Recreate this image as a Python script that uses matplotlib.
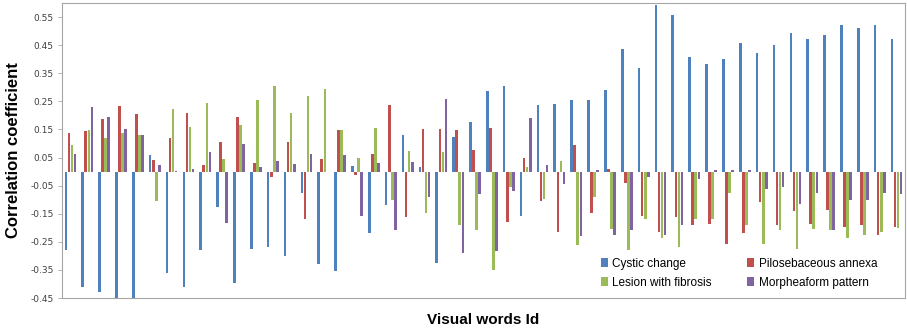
import numpy as np
import matplotlib.pyplot as plt

# correlation of each visual word with the four lesion patterns
cystic = [-0.28, -0.41, -0.43, -0.45, -0.45, 0.06, -0.36, -0.41, -0.28, -0.125,
          -0.395, -0.275, -0.27, -0.30, -0.075, -0.33, -0.355, 0.02, -0.22, -0.12,
          0.13, 0.017, -0.325, 0.123, 0.178, 0.286, 0.306, -0.158, 0.237, 0.241,
          0.256, 0.254, 0.292, 0.437, 0.369, 0.592, 0.559, 0.409, 0.382, 0.399,
          0.457, 0.423, 0.45, 0.493, 0.473, 0.487, 0.52, 0.511, 0.521, 0.473]
pilo = [0.136, 0.145, 0.188, 0.234, 0.205, 0.041, 0.119, 0.207, 0.023, 0.104,
        0.193, 0.031, -0.019, 0.104, -0.168, 0.045, 0.148, -0.011, 0.064, 0.236,
        -0.161, 0.153, 0.15, 0.149, 0.076, 0.156, -0.181, 0.049, -0.104, -0.214,
        0.095, -0.146, 0.008, -0.039, -0.158, -0.214, -0.161, -0.191, -0.186, -0.259,
        -0.218, -0.107, -0.191, -0.139, -0.188, -0.136, -0.196, -0.191, -0.224, -0.196]
fibrosis = [0.093, 0.149, 0.119, 0.136, 0.131, -0.106, 0.224, 0.16, 0.243, 0.044,
            0.164, 0.254, 0.305, 0.207, 0.268, 0.294, 0.148, 0.05, 0.156, -0.102,
            0.074, -0.146, 0.068, -0.19, -0.208, -0.351, -0.054, 0.016, -0.099, 0.039,
            -0.262, -0.089, -0.206, -0.28, -0.169, -0.236, -0.27, -0.169, -0.168, -0.075,
            -0.19, -0.259, -0.208, -0.277, -0.204, -0.208, -0.236, -0.224, -0.216, -0.2]
morph = [0.063, 0.231, 0.195, 0.15, 0.131, 0.023, 0.003, 0.008, 0.071, -0.182,
         0.099, 0.018, 0.036, 0.026, 0.063, -0.003, 0.059, -0.158, 0.031, -0.209,
         0.035, -0.09, 0.26, -0.291, -0.081, -0.282, -0.069, 0.192, 0.023, -0.045,
         -0.229, 0.007, -0.224, -0.208, -0.018, -0.224, -0.191, -0.027, 0.005, 0.007,
         0.007, -0.063, -0.054, -0.117, -0.075, -0.208, -0.101, -0.1, -0.075, -0.081]

series_names = ["Cystic change", "Pilosebaceous annexa",
                "Lesion with fibrosis", "Morpheaform pattern"]
colors = ["#4F81BD", "#C0504D", "#9BBB59", "#8064A2"]
yticks = [0.55, 0.45, 0.35, 0.25, 0.15, 0.05, -0.05, -0.15, -0.25, -0.35, -0.45]

fig = plt.figure(figsize=(9.07, 3.3), dpi=100)
ax = fig.add_axes([62 / 907, 1 - 298 / 330, 843 / 907, 295 / 330])

x = np.arange(1, len(cystic) + 1)
w = 1 / 5.5
handles = {}
for k, (vals, name, c) in enumerate(zip([cystic, pilo, fibrosis, morph], series_names, colors)):
    handles[name] = ax.bar(x + (k - 1.5) * w, vals, width=w * 0.85, color=c, label=name)

ax.set_xlim(0.5, len(cystic) + 0.5)
ax.set_ylim(-0.45, 0.6)
ax.set_xticks([])
ax.set_yticks(yticks)
ax.set_yticklabels([f"{t:.2f}" for t in yticks])
ax.tick_params(axis="y", labelsize=6.5, labelcolor="#404040", length=3, width=0.6, color="#A6A6A6", pad=3)
for s in ax.spines.values():
    s.set_color("#A6A6A6")
    s.set_linewidth(0.8)

ax.set_ylabel("Correlation coefficient", fontsize=12, fontweight="bold", family="Liberation Sans", labelpad=7)
ax.set_xlabel("Visual words Id", fontsize=11, fontweight="bold", family="Liberation Sans", labelpad=11)

# legend fills column-wise, so list column 1 then column 2
order = ["Cystic change", "Lesion with fibrosis", "Pilosebaceous annexa", "Morpheaform pattern"]
ax.legend([handles[n] for n in order], order, ncol=2, frameon=False,
          loc="upper left", bbox_to_anchor=(590 / 907, 1 - 247 / 330), bbox_transform=fig.transFigure,
          handlelength=0.6, handleheight=0.7, handletextpad=0.4,
          columnspacing=3.0, labelspacing=0.6, prop={"family": "Liberation Sans", "size": 8.5})

fig.savefig("out.png", dpi=100)
